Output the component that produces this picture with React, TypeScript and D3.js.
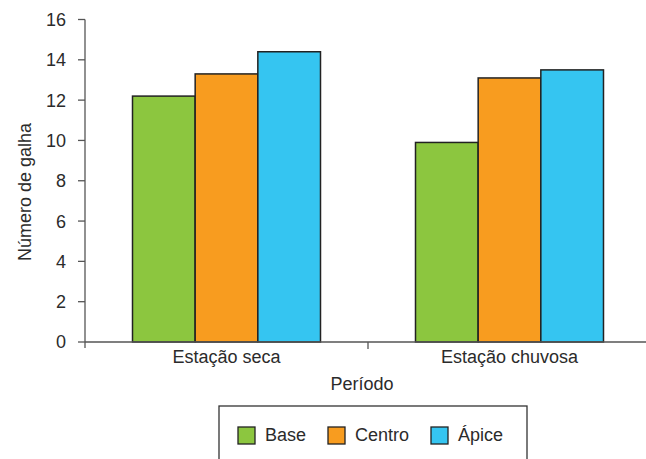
import React from "react";
import * as d3 from "d3";

const categories = ["Estação seca", "Estação chuvosa"];
const series = ["Base", "Centro", "Ápice"];
const baseValues = [12.2, 9.9];
const centroValues = [13.3, 13.1];
const apiceValues = [14.4, 13.5];
const yTicks = [0, 2, 4, 6, 8, 10, 12, 14, 16];
const colors = ["#8cc63f", "#f89c1f", "#35c5f1"];

const W = 646;
const H = 459;
const FONT = "'Liberation Sans', Arial, sans-serif";
const FS = 18;
const TEXT = "#2b2b2b";
const AXIS = "#555";

export default function App() {
  const valuesBySeries = [baseValues, centroValues, apiceValues];

  const x = d3.scaleBand<string>().domain(categories).range([85, 651]).paddingInner(0).paddingOuter(0);
  const xInner = d3
    .scaleBand<string>()
    .domain(series)
    .range([0, x.bandwidth()])
    .paddingInner(0)
    .paddingOuter(0.758);
  const y = d3.scaleLinear().domain([0, 16]).range([342, 19.5]);

  const legendX = [238, 328, 431];

  return (
    <svg width={W} height={H} style={{ position: "absolute", left: 0, top: 0, background: "#fff" }}>
      {/* bars */}
      {categories.map((c, ci) =>
        series.map((s, si) => {
          const v = valuesBySeries[si][ci];
          const bx = (x(c) ?? 0) + (xInner(s) ?? 0);
          return (
            <rect
              key={c + s}
              x={bx}
              y={y(v)}
              width={xInner.bandwidth()}
              height={y(0) - y(v)}
              fill={colors[si]}
              stroke="#222"
              strokeWidth={1.5}
            />
          );
        })
      )}

      {/* y axis */}
      <line x1={85} x2={85} y1={y(16)} y2={348} stroke={AXIS} strokeWidth={1.3} />
      {yTicks.map((t) => (
        <g key={t}>
          <line x1={78} x2={85} y1={y(t)} y2={y(t)} stroke={AXIS} strokeWidth={1.3} />
          <text
            x={66}
            y={y(t)}
            dy="0.36em"
            textAnchor="end"
            fontFamily={FONT}
            fontSize={FS}
            fill={TEXT}
          >
            {t}
          </text>
        </g>
      ))}

      {/* x axis */}
      <line x1={85} x2={651} y1={y(0)} y2={y(0)} stroke={AXIS} strokeWidth={1.3} />
      {categories.slice(1).map((c) => (
        <line key={c} x1={x(c)} x2={x(c)} y1={y(0)} y2={y(0) + 7} stroke={AXIS} strokeWidth={1.3} />
      ))}
      {categories.map((c) => (
        <text
          key={c}
          x={(x(c) ?? 0) + x.bandwidth() / 2}
          y={363}
          textAnchor="middle"
          fontFamily={FONT}
          fontSize={FS}
          fill={TEXT}
        >
          {c}
        </text>
      ))}

      {/* axis titles */}
      <text x={362} y={390} textAnchor="middle" fontFamily={FONT} fontSize={FS} fill={TEXT}>
        Período
      </text>
      <text
        transform="translate(31,192) rotate(-90)"
        textAnchor="middle"
        fontFamily={FONT}
        fontSize={FS}
        fill={TEXT}
      >
        Número de galha
      </text>

      {/* legend */}
      <rect x={219} y={406} width={308} height={60} fill="#fff" stroke="#333" strokeWidth={1.3} />
      {series.map((s, i) => (
        <g key={s}>
          <rect x={legendX[i]} y={427} width={17} height={17} fill={colors[i]} stroke="#222" strokeWidth={1.3} />
          <text x={legendX[i] + 27} y={441} fontFamily={FONT} fontSize={FS} fill={TEXT}>
            {s}
          </text>
        </g>
      ))}
    </svg>
  );
}
